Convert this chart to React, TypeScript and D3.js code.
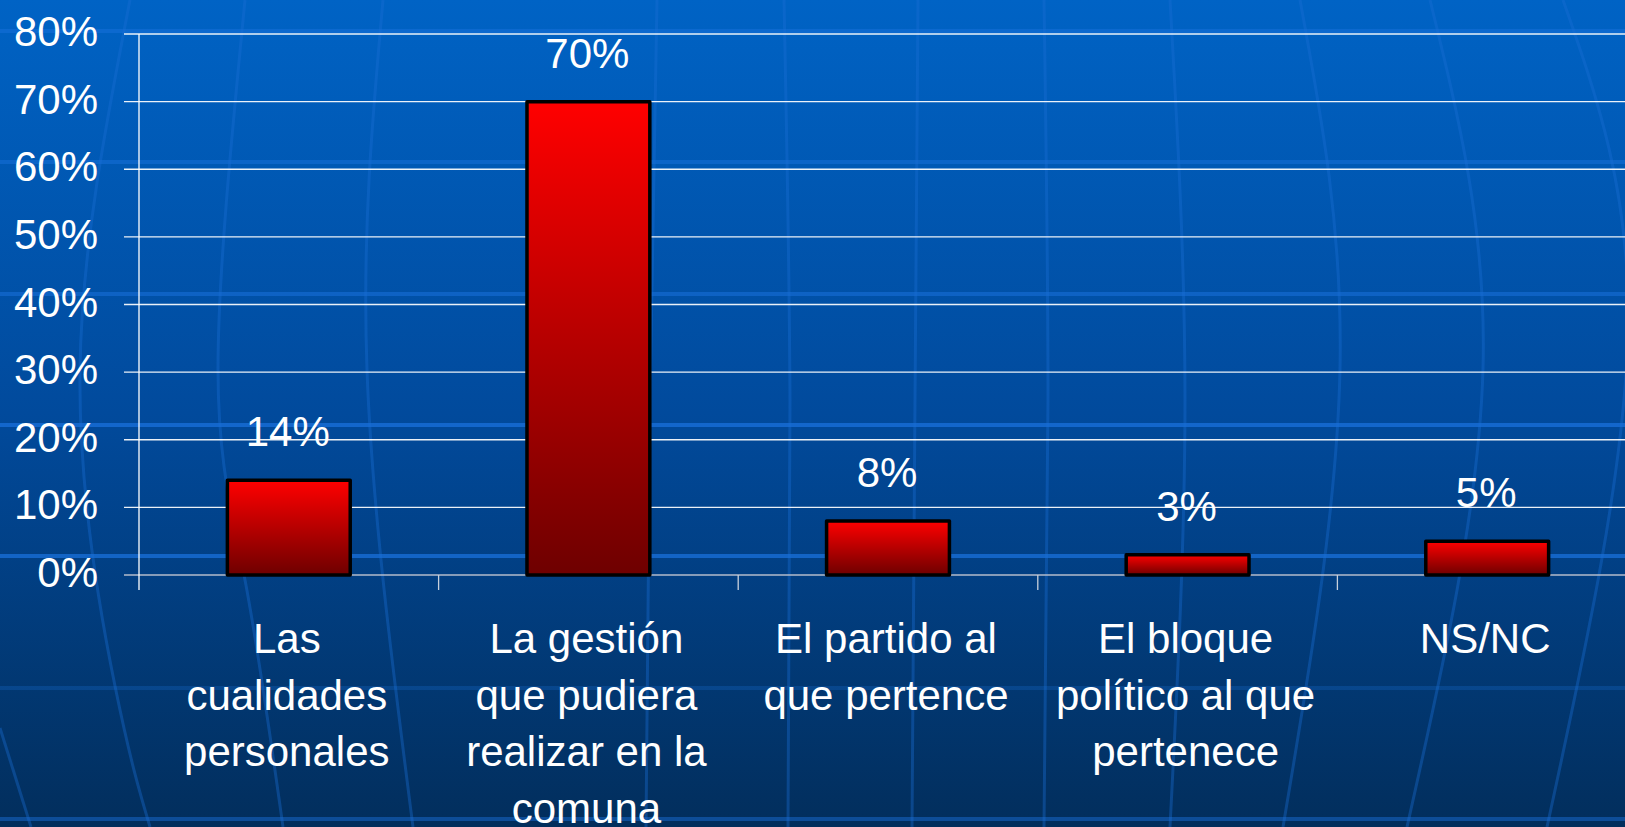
import React, { useEffect } from "react";
import * as d3 from "d3";

const categories = [
  "Las cualidades personales",
  "La gestión que pudiera realizar en la comuna",
  "El partido al que pertence",
  "El bloque político al que pertenece",
  "NS/NC",
];
const categoryLines: string[][] = [
  ["Las", "cualidades", "personales"],
  ["La gestión", "que pudiera", "realizar en la", "comuna"],
  ["El partido al", "que pertence"],
  ["El bloque", "político al que", "pertenece"],
  ["NS/NC"],
];
const values = [0.14, 0.7, 0.08, 0.03, 0.05];
const valueLabels = ["14%", "70%", "8%", "3%", "5%"];
const yTicks = [0, 0.1, 0.2, 0.3, 0.4, 0.5, 0.6, 0.7, 0.8];
const yTickLabels = ["0%", "10%", "20%", "30%", "40%", "50%", "60%", "70%", "80%"];

// decorative background (globe-like meridians / parallels)
const meridians: [number, number][][] = [
  [[130, 0], [80, 370], [115, 686], [150, 827]],
  [[245, 0], [218, 370], [245, 580], [283, 827]],
  [[383, 0], [367, 370], [413, 827]],
  [[657, 0], [650, 400], [646, 827]],
  [[784, 0], [790, 400], [788, 827]],
  [[918, 0], [915, 400], [912, 827]],
  [[1044, 0], [1048, 400], [1044, 827]],
  [[1170, 0], [1185, 400], [1170, 827]],
  [[1300, 0], [1340, 369], [1283, 827]],
  [[1430, 0], [1483, 369], [1407, 827]],
  [[1563, 0], [1628, 330], [1547, 827]],
  [[0, 728], [31, 827]],
];
const parallels = [31, 162, 294, 425, 556, 688, 819];
const parallelOpacity = [0.45, 0.45, 0.5, 0.7, 0.7, 0.25, 0.45];

const W = 1625;
const H = 827;
const FONT = "'Liberation Sans', Arial, Helvetica, sans-serif";

export default function App() {
  useEffect(() => {
    document.body.style.margin = "0";
    document.body.style.overflow = "hidden";
  }, []);

  const y = d3.scaleLinear().domain([0, 0.8]).range([575, 34]);
  const x = d3
    .scaleBand<string>()
    .domain(categories)
    .range([139, 1637])
    .paddingInner(0.59)
    .paddingOuter(0.295);
  const step = x.step();
  const axisLeft = 139;
  const line = d3.line<[number, number]>().curve(d3.curveNatural);

  return (
    <svg
      width={W}
      height={H}
      style={{ display: "block", position: "absolute", left: 0, top: 0 }}
    >
      <defs>
        <linearGradient id="bg" x1="0" y1="0" x2="0" y2="1">
          <stop offset="0" stopColor="#0063c5" />
          <stop offset="0.5" stopColor="#014a9c" />
          <stop offset="1" stopColor="#022e5c" />
        </linearGradient>
        <linearGradient id="bar" x1="0" y1="0" x2="0" y2="1">
          <stop offset="0" stopColor="#ff0000" />
          <stop offset="1" stopColor="#6e0000" />
        </linearGradient>
      </defs>
      <rect x={0} y={0} width={W} height={H} fill="url(#bg)" />
      <g>
        {parallels.map((py, i) => (
          <line
            key={"p" + i}
            x1={0}
            x2={W}
            y1={py}
            y2={py}
            stroke="#1b74e0"
            strokeOpacity={parallelOpacity[i]}
            strokeWidth={4}
          />
        ))}
        {meridians.map((pts, i) => (
          <path
            key={"m" + i}
            d={line(pts) || ""}
            fill="none"
            stroke="#1b6fd6"
            strokeOpacity={0.38}
            strokeWidth={3}
          />
        ))}
      </g>
      {/* gridlines */}
      <g>
        {yTicks.map((t, i) => (
          <line
            key={"g" + i}
            x1={124}
            x2={W}
            y1={y(t)}
            y2={y(t)}
            stroke={t === 0 ? "#b4bccb" : "#ffffff"}
            strokeOpacity={t === 0 ? 1 : 0.92}
            strokeWidth={1.3}
          />
        ))}
      </g>
      {/* y axis */}
      <line x1={axisLeft} x2={axisLeft} y1={y(0.8)} y2={590} stroke="#ffffff" strokeWidth={1.3} />
      {categories.map((c, i) => (
        <line
          key={"t" + i}
          x1={axisLeft + step * (i + 1)}
          x2={axisLeft + step * (i + 1)}
          y1={y(0)}
          y2={590}
          stroke="#c8d0dc"
          strokeWidth={1.3}
        />
      ))}
      {yTicks.map((t, i) => (
        <text
          key={"yl" + i}
          x={98}
          y={y(t) + 12}
          textAnchor="end"
          fill="#ffffff"
          fontFamily={FONT}
          fontSize={42}
        >
          {yTickLabels[i]}
        </text>
      ))}
      {/* bars */}
      {categories.map((c, i) => (
        <rect
          key={"b" + i}
          x={x(c)!}
          y={y(values[i])}
          width={x.bandwidth()}
          height={y(0) - y(values[i])}
          fill="url(#bar)"
          stroke="#000000"
          strokeWidth={3.5}
          strokeLinejoin="round"
        />
      ))}
      {categories.map((c, i) => (
        <text
          key={"v" + i}
          x={x(c)! + x.bandwidth() / 2 - 1}
          y={y(values[i]) - 34}
          textAnchor="middle"
          fill="#ffffff"
          fontFamily={FONT}
          fontSize={42}
        >
          {valueLabels[i]}
        </text>
      ))}
      {/* category labels */}
      {categories.map((c, i) => (
        <text
          key={"c" + i}
          textAnchor="middle"
          fill="#ffffff"
          fontFamily={FONT}
          fontSize={42}
        >
          {categoryLines[i].map((ln, j) => (
            <tspan key={j} x={x(c)! + x.bandwidth() / 2 - 2} y={653 + j * 56.5}>
              {ln}
            </tspan>
          ))}
        </text>
      ))}
    </svg>
  );
}
